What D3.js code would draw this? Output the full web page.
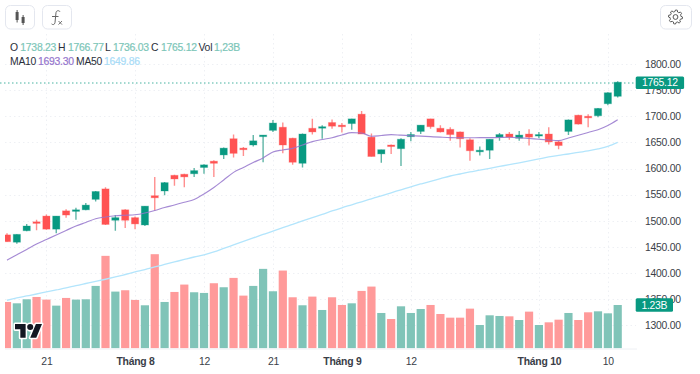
<!DOCTYPE html>
<html><head><meta charset="utf-8">
<style>html,body{margin:0;padding:0;background:#fff;overflow:hidden}text{font-family:"Liberation Sans",Arial,sans-serif;letter-spacing:-.25px}</style>
<script src="https://cdn.jsdelivr.net/npm/d3@7/dist/d3.min.js"></script>
</head><body><svg id="c" width="700" height="374"></svg>
<script>
const opens=[1473,1459,1481,1498,1509,1484,1519,1518,1521,1541,1561,1501,1521,1506,1492,1548,1557,1587,1589,1590,1602,1614,1626,1657,1639,1645,1661,1673,1679,1658,1610,1677,1678,1688,1683,1686,1704,1660,1628,1645,1638,1661,1671,1695,1677,1675,1670,1655,1632,1635,1660,1666,1658,1666,1663,1666,1651,1671,1702,1700,1701,1724,1738.23];
const highs=[1476,1474,1494,1502,1512,1509,1522,1525,1534,1557,1564,1511,1522,1508,1528,1584,1574,1588,1590,1601,1608,1616,1640,1665,1641,1664,1664,1693,1688,1659,1667,1695,1683,1694,1687,1695,1710,1667,1636,1646,1658,1670,1683,1695,1683,1679,1671,1658,1642,1656,1668,1670,1672,1675,1670,1679,1653,1694,1703,1704,1716,1746,1766.77];
const lows=[1460,1456,1480,1482,1483,1476,1506,1502,1520,1537,1492,1481,1486,1484,1490,1519,1549,1567,1564,1584,1590,1584,1618,1621,1624,1642,1612,1670,1629,1607,1602,1665,1657,1676,1669,1674,1666,1623,1611,1628,1605,1652,1666,1676,1669,1653,1640,1615,1625,1618,1653,1655,1653,1644,1658,1646,1637,1664,1684,1679,1698,1721,1736.03];
const closes=[1460,1474,1490,1495,1484,1509,1511,1521,1530,1556,1493,1506,1501,1494,1528,1544,1573,1580,1584,1596,1607,1610,1639,1629,1636,1653,1664,1687,1645,1612,1666,1670,1680,1681,1680,1695,1666,1623,1636,1642,1656,1665,1683,1680,1670,1665,1657,1634,1635,1656,1665,1660,1664,1660,1665,1651,1644,1693,1685,1697,1715,1745,1765.12];
const volumes=[1.316,1.278,1.392,1.458,1.383,1.212,1.430,1.383,1.392,1.771,2.623,1.610,1.648,1.373,1.222,2.670,1.316,1.600,1.809,1.591,1.572,1.847,1.733,1.998,1.496,1.771,2.254,1.619,2.206,1.449,1.222,1.468,1.089,1.449,1.231,1.278,1.629,1.752,1.004,.833,1.193,1.004,1.117,1.231,.975,.871,.871,1.127,.663,.938,.919,.909,.805,1.042,.663,.739,.814,1.004,.805,1.023,1.051,.994,1.23];
const ma10=[1424.6,1434.9,1445,1455.6,1464.2,1472.8,1481.5,1490,1496.8,1504,1507.3,1509.6,1510.5,1511.5,1514.9,1519.7,1525.4,1530.2,1535.4,1540.8,1551.3,1563.7,1578.1,1592.6,1602,1611.6,1620.2,1631.6,1635.5,1638.5,1645,1651.4,1655.6,1659,1664.2,1668.6,1668,1661.7,1663.2,1664.8,1663.8,1662.8,1661.9,1660.9,1660,1659.2,1658.8,1658.8,1659,1659,1659.4,1659.8,1658.8,1657.5,1656,1654.6,1653.3,1658.4,1663.6,1669,1674.3,1682.4,1693.3];
const ma50=[1347.9,1352.3,1356.1,1359.9,1363.8,1367.6,1371.4,1376,1380,1383.9,1388.1,1392.5,1397.2,1402,1406.6,1411.6,1416.4,1421.2,1426,1430.7,1434.9,1440.3,1447,1453.7,1460.4,1467.1,1473.8,1480.1,1486.8,1493.1,1499.6,1505.9,1512.2,1518.8,1524.9,1530.6,1536.4,1542.1,1547.8,1553.6,1559.3,1565.1,1570.4,1575.6,1580.6,1585.7,1589.5,1593.4,1596.8,1600.3,1603.9,1607.5,1611,1614.8,1618.3,1622.1,1625.1,1627.8,1630.9,1633.6,1637.4,1642.2,1649.86];
const priceTicks=[1300,1350,1400,1450,1500,1550,1600,1650,1700,1750,1800];
const timeTickIdx=[4,13,20,27,34,41,54,61];
const timeTickLabels=["21","Tháng 8","12","21","Tháng 9","12","Tháng 10","10"];
const headerRow1=[["O","1738.23"],["H","1766.77"],["L","1736.03"],["C","1765.12"],["Vol","1,23B"]];
const headerRow2=[["MA10","1693.30"],["MA50","1649.86"]];

const UP="#089981",DOWN="#ff5252",PURPLE="#9575cd",SKY="#b3e5fc",INK="#2a2e39";
const L=5,R=636,BASE=348.4,FS=10.4;
const svg=d3.select("#c");
const idx=d3.range(opens.length);
const x=d3.scalePoint().domain(idx).range([7,617.7]);
const y=d3.scaleLinear().domain([1300,1800]).range([325.3,64]);
const yv=d3.scaleLinear().domain([0,1.23]).range([BASE,305]);
const isUp=i=>closes[i]>=opens[i];

svg.append("defs").append("clipPath").attr("id","plot").append("rect").attr("x",L).attr("y",30).attr("width",R-L).attr("height",BASE-30);

// grid
const grid=svg.append("g").attr("stroke","#eef0f4").attr("stroke-dasharray","1.5 3").attr("stroke-width",1);
grid.selectAll("line.h").data(priceTicks).join("line").attr("class","h").attr("x1",L).attr("x2",R).attr("y1",d=>Math.round(y(d))+.5).attr("y2",d=>Math.round(y(d))+.5);
grid.selectAll("line.v").data(timeTickIdx).join("line").attr("class","v").attr("x1",d=>Math.round(x(d))+.5).attr("x2",d=>Math.round(x(d))+.5).attr("y1",34).attr("y2",BASE);

const plot=svg.append("g").attr("clip-path","url(#plot)");
// volume
plot.append("g").selectAll("rect").data(idx).join("rect")
 .attr("x",i=>x(i)-4.1).attr("width",8.2).attr("y",i=>yv(volumes[i])).attr("height",i=>BASE-yv(volumes[i]))
 .attr("fill",i=>isUp(i)?"#80c4b8":"#ff9a9a");
// candles
const cg=plot.append("g");
cg.selectAll("line").data(idx).join("line")
 .attr("x1",i=>x(i)).attr("x2",i=>x(i)).attr("y1",i=>y(highs[i])).attr("y2",i=>y(lows[i]))
 .attr("stroke",i=>isUp(i)?"#5fb5a6":"#ff8f8f").attr("stroke-width",1.4);
cg.selectAll("rect").data(idx).join("rect")
 .attr("x",i=>x(i)-3.6).attr("width",7.2)
 .attr("y",i=>y(Math.max(opens[i],closes[i])))
 .attr("height",i=>Math.max(1.5,Math.abs(y(opens[i])-y(closes[i]))))
 .attr("fill",i=>isUp(i)?UP:DOWN)
 .attr("stroke",i=>isUp(i)?UP:DOWN).attr("stroke-opacity",.3).attr("stroke-width",1);
// moving averages
const line=a=>d3.line().x((d,i)=>x(i)).y(d=>y(d)).curve(d3.curveMonotoneX)(a);
plot.append("path").attr("d",line(ma50)).attr("fill","none").attr("stroke",SKY).attr("stroke-width",1.3);
plot.append("path").attr("d",line(ma10)).attr("fill","none").attr("stroke",PURPLE).attr("stroke-width",1.15).attr("stroke-opacity",.85);

// base line + price line
svg.append("line").attr("x1",L).attr("x2",R+1).attr("y1",BASE+.6).attr("y2",BASE+.6).attr("stroke","#eef0f4");
svg.append("line").attr("x1",0).attr("x2",R).attr("y1",83).attr("y2",83).attr("stroke",UP).attr("stroke-opacity",.75).attr("stroke-dasharray","1.5 2.5");

// axes
const styleAxisText=s=>s.attr("font-size",FS).attr("fill","#3a3e48").attr("font-family",null).style("font-family",'"Liberation Sans",Arial,sans-serif');
const yAxis=svg.append("g").attr("transform",`translate(${R},0)`).call(d3.axisRight(y).tickValues(priceTicks).tickSize(0).tickPadding(9).tickFormat(d3.format(".2f")));
yAxis.select(".domain").remove();
yAxis.selectAll("text").call(styleAxisText);
const lab=new Map(timeTickIdx.map((d,i)=>[d,timeTickLabels[i]]));
const xAxis=svg.append("g").attr("transform",`translate(0,${BASE})`).call(d3.axisBottom(x).tickValues(timeTickIdx).tickSize(0).tickPadding(9).tickFormat(d=>lab.get(d)));
xAxis.select(".domain").remove();
xAxis.selectAll("text").call(styleAxisText).attr("font-weight",d=>lab.get(d).startsWith("Tháng")?700:400);

// value tags
function tag(xl,w,yc,h,t){
 svg.append("rect").attr("x",xl).attr("y",yc-h/2).attr("width",w).attr("height",h).attr("rx",1.5).attr("fill",UP);
 svg.append("text").attr("x",xl+w/2).attr("y",yc).attr("dy",".35em").attr("text-anchor","middle").attr("font-size",FS).attr("fill","#fff").text(t);
}
tag(635.7,48.4,82.8,12.6,closes[closes.length-1].toFixed(2));
tag(635.7,37.3,305,13.4,volumes[volumes.length-1].toFixed(2)+"B");

// header legend
const row1X=[[10,20.3],[58,68],[105,113],[151,161],[198.5,214]];
const row2X=[[10,38],[76,104]];
const hdr=(rows,xs,yc,cols)=>rows.forEach((r,i)=>{
 svg.append("text").attr("x",xs[i][0]).attr("y",yc).attr("font-size",FS).attr("fill",INK).text(r[0]);
 svg.append("text").attr("x",xs[i][1]).attr("y",yc).attr("font-size",FS).attr("fill",cols[i]).attr("stroke",cols[i]).attr("stroke-width",.2).text(r[1]);
});
hdr(headerRow1,row1X,50.5,["#7cc6b8","#7cc6b8","#7cc6b8","#7cc6b8","#7cc6b8"]);
hdr(headerRow2,row2X,65,[PURPLE,"#a8dcf7"]);

// toolbar
const btn=(xx,w)=>svg.append("rect").attr("x",xx).attr("y",5.5).attr("width",w).attr("height",23.5).attr("rx",5).attr("fill","#fff").attr("stroke","#e4e7ef");
btn(5.5,29);btn(42.5,29);btn(660.5,31);
const ic=svg.append("g").attr("fill","#555");
ic.append("rect").attr("x",15.6).attr("y",12).attr("width",3).attr("height",8);
ic.append("rect").attr("x",16.6).attr("y",10).attr("width",1).attr("height",12.5);
ic.append("rect").attr("x",21.6).attr("y",17).attr("width",3).attr("height",6);
ic.append("rect").attr("x",22.6).attr("y",15).attr("width",1).attr("height",10);
svg.append("path").attr("d","M60 11.8c-.8-1.6-3.6-1.6-4 .8L55 22.5c-.3 2.3-2.2 2.6-3.4 1.4M52 16.5h6.5").attr("fill","none").attr("stroke","#666").attr("stroke-width",1);
svg.append("path").attr("d","M58.5 21l3.5 3.6M62 21l-3.5 3.6").attr("fill","none").attr("stroke","#666").attr("stroke-width",.9);
// gear
const gearPts=d3.range(48).map(k=>{const a=k/48*2*Math.PI,ph=(k%6);return [a,(ph<3)?7:5.4];});
svg.append("path").attr("transform","translate(675.5,17)").attr("d",d3.lineRadial().curve(d3.curveLinearClosed)(gearPts)).attr("fill","none").attr("stroke","#555").attr("stroke-width",1);
svg.append("circle").attr("cx",675.5).attr("cy",17).attr("r",2.4).attr("fill","none").attr("stroke","#555");

// logo
const logo=svg.append("g").attr("transform","translate(15,321) scale(.76)");
const logoD="M14 22H7V11H0V4h14v18zM28 22h-8l7.5-18h8L28 22z";
logo.append("path").attr("d",logoD).attr("fill","#fff").attr("stroke","#fff").attr("stroke-width",4).attr("stroke-linejoin","round");
logo.append("circle").attr("cx",20).attr("cy",8).attr("r",4).attr("fill","#fff").attr("stroke","#fff").attr("stroke-width",4);
logo.append("path").attr("d",logoD).attr("fill","#131722");
logo.append("circle").attr("cx",20).attr("cy",8).attr("r",4).attr("fill","#131722");
</script></body></html>
